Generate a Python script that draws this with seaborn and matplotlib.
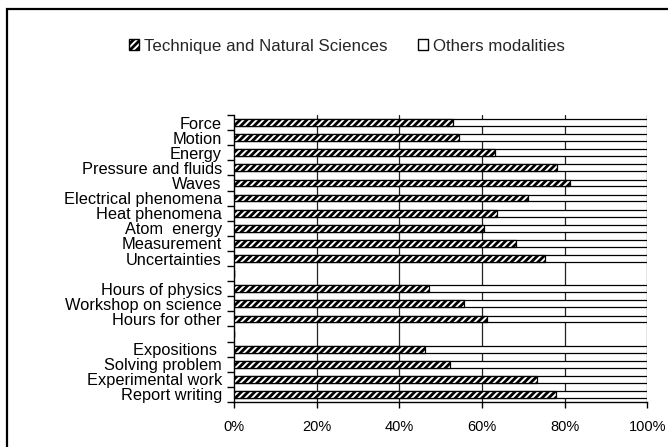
import matplotlib
matplotlib.use("Agg")
import matplotlib.pyplot as plt
import seaborn as sns
import pandas as pd
import numpy as np
from matplotlib.patches import Patch, Rectangle
from matplotlib.ticker import FixedLocator

sns.set_theme(style="white")
plt.rcParams['font.family'] = ['Liberation Sans', 'DejaVu Sans']
plt.rcParams['hatch.linewidth'] = 2.0
plt.rcParams['hatch.color'] = '#333333'

categories = ["Force", "Motion", "Energy", "Pressure and fluids", "Waves",
              "Electrical phenomena", "Heat phenomena", "Atom  energy",
              "Measurement", "Uncertainties", " ",
              "Hours of physics", "Workshop on science", "Hours for other", "  ",
              "Expositions ", "Solving problem", "Experimental work", "Report writing"]
technique = [53.0, 54.3, 63.1, 78.1, 81.4, 71.2, 63.7, 60.5, 68.3, 75.2, 0,
             47.1, 55.7, 61.3, 0,
             46.2, 52.2, 73.2, 77.8]
present = [1, 1, 1, 1, 1, 1, 1, 1, 1, 1, 0, 1, 1, 1, 0, 1, 1, 1, 1]
tick_labels = ["0%", "20%", "40%", "60%", "80%", "100%"]
tick_vals = [0, 20, 40, 60, 80, 100]

total = [100 * p for p in present]
df = pd.DataFrame({"cat": categories, "tech": technique, "total": total})

fig = plt.figure(figsize=(6.68, 4.47), dpi=100)
ax = fig.add_axes([0.3507, 0.1007, 0.6183, 0.642])

sns.barplot(data=df, y="cat", x="total", order=categories, orient="h",
            color="white", edgecolor="black", linewidth=0.9, width=0.45,
            ax=ax, zorder=3, saturation=1)
n_before = len(ax.patches)
sns.barplot(data=df, y="cat", x="tech", order=categories, orient="h",
            color="white", linewidth=0.9, width=0.45,
            ax=ax, zorder=4, saturation=1)
for p in ax.patches[n_before:]:
    p.set_hatch("/////")
    p.set_edgecolor("black")
    p.set_facecolor("white")

ax.set_xlim(0, 100)
ax.set_ylim(len(categories) - 0.5, -0.5)
ax.set_xlabel("")
ax.set_ylabel("")
ax.set_xticks(tick_vals)
ax.set_xticklabels(tick_labels, fontsize=10.5, color="black")
ax.tick_params(axis="x", bottom=True, length=4, width=1, color="black", pad=9, direction="out")
ax.set_yticks(range(len(categories)))
ax.set_yticklabels(categories, fontsize=11.8, color="black")
ax.tick_params(axis="y", which="major", left=False, length=0, pad=9)
ax.yaxis.set_minor_locator(FixedLocator(np.arange(-0.5, len(categories), 1.0)))
ax.tick_params(axis="y", which="minor", left=True, length=5, width=1, color="black", direction="out")

ax.grid(False)
for v in tick_vals[1:]:
    ax.axvline(v, color="#222222", lw=0.9, zorder=1)

for s in ["top", "right"]:
    ax.spines[s].set_visible(False)
ax.spines["left"].set_color("black")
ax.spines["left"].set_linewidth(1.0)
ax.spines["bottom"].set_color("black")
ax.spines["bottom"].set_linewidth(1.0)

handles = [Patch(facecolor="white", edgecolor="black", hatch="/////", label="Technique and Natural Sciences"),
           Patch(facecolor="white", edgecolor="black", label="Others modalities")]
fig.legend(handles=handles, loc="center", bbox_to_anchor=(0.519, 0.897), ncol=2,
           frameon=False, fontsize=12.2, handlelength=0.6, handleheight=0.6,
           handletextpad=0.3, columnspacing=1.8)

fig.patches.append(Rectangle((7 / 668, -0.1), 1.2, 1 - 9 / 447 + 0.1, transform=fig.transFigure,
                             fill=False, edgecolor="black", lw=1.6, zorder=10))

fig.savefig("out.png", dpi=100)
